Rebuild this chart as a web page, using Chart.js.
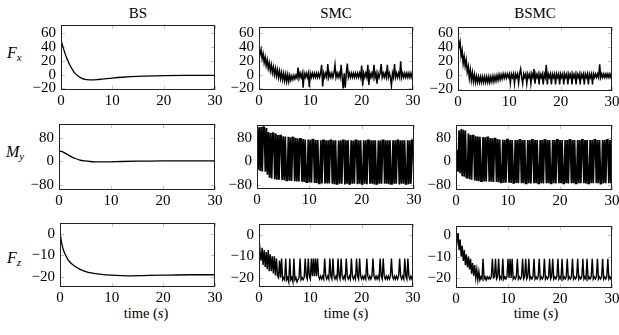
<!DOCTYPE html>
<html><head><meta charset="utf-8">
<script src="https://cdn.jsdelivr.net/npm/chart.js@4"></script>
<style>
html,body{margin:0;padding:0;background:#fff;}
body{width:619px;height:335px;position:relative;overflow:hidden;font-family:'Liberation Serif','Times New Roman',serif;color:#000;}
canvas{position:absolute;}
.ct{position:absolute;font-size:15px;transform:translate(-50%,-50%);white-space:nowrap;line-height:1;}
.xl{position:absolute;font-size:14.5px;transform:translate(-50%,-50%);white-space:nowrap;line-height:1;}
.yl{position:absolute;font-size:16px;font-style:italic;line-height:16px;white-space:nowrap;}
.yl sub{font-size:11px;line-height:0;vertical-align:-3px;}
</style></head><body>
<div class="ct" style="left:138px;top:13px">BS</div>
<div class="ct" style="left:336px;top:13px">SMC</div>
<div class="ct" style="left:535px;top:13px">BSMC</div>
<div class="yl" style="left:7px;top:45px">F<sub>x</sub></div>
<div class="yl" style="left:6px;top:144px">M<sub>y</sub></div>
<div class="yl" style="left:7px;top:250px">F<sub>z</sub></div>
<div class="xl" style="left:146px;top:313px">time (<i>s</i>)</div>
<div class="xl" style="left:346px;top:313px">time (<i>s</i>)</div>
<div class="xl" style="left:536px;top:313px">time (<i>s</i>)</div>
<script>
// ---------- tick labels ----------
const X_TICKS = [0, 10, 20, 30];
const FX_TICKS = [-20, 0, 20, 40, 60];
const MY_TICKS = [-80, 0, 80];
const FZ_TICKS = [-20, -10, 0];

// ---------- BS (smooth) series ----------
const bsFxTime = [0,0.5,1,1.5,2,2.5,3,3.5,4,4.5,5,6,7,8,10,12,15,20,25,30];
const bsFx     = [50,37,26,17,10,4,0,-3,-5,-6.5,-7.2,-7.5,-7.2,-6.5,-5,-3.8,-2.6,-1.6,-1.2,-1];
const bsMyTime = [0,0.5,1,1.5,2,2.5,3,4,5,6,7,8,10,12,15,20,25,30];
const bsMy     = [36,34,30,25,20,15,11,5,2,0,-1,-1.5,-1,0,1,2,2,2];
const bsFzTime = [0,0.3,0.6,1,1.5,2,3,4,5,6,8,10,12,14,16,20,25,30];
const bsFz     = [1,-4,-7,-9.5,-11.8,-13.3,-15.3,-16.6,-17.5,-18.1,-18.8,-19.2,-19.4,-19.5,-19.4,-19.2,-19,-19];

// ---------- SMC / BSMC sampled series (every 0.2 s, 0..30 s) ----------
const sampleStep = 0.2;
const smcFx = [40,29,36,23,30,17,25,13,21,9,
 17,5.5,14,2.5,11,0,9,-2,7,-4,
 5,-6,3,-7.5,1.5,-9,0.5,-10,0,-10,
 -1,-8,-2,-7,-1,-6,-1,-5,10,-5,
 2,-4,2,-19,2,-4,2,-4,2,-18,
 2,-4,2,-4,2,-4,2,-4,2,-4,
 2,14,-17,2,-4,2,-4,15,-4,2,
 -4,2,-4,2,14,-4,2,-4,2,-4,
 14,-4,-20,2,-19,2,16,-4,2,-4,
 2,-4,2,-4,2,-4,2,-4,2,-4,
 13,-16,2,-4,2,-4,14,-15,2,-4,
 2,-4,14,-4,2,-13,2,-4,2,15,
 -4,2,-4,2,-4,14,-4,2,-4,-16,
 2,-4,15,-4,2,-4,2,-4,19,-4,
 2,-4,2,-4,2,-4,2,-4,2,-4,
 2];
const bsmcFx = [55,40,47,27,35,16,26,12,21,4,
 12,-5,7,-8,3,-10,0,-11,-2,-11,
 -3,-11,-3,-11,-3,-11,-3,-11,-3,-11,
 -3,-11,-3,-10,-2,-10,-2,-9,-1,-8,
 0,-7,0,-6,1,-5,1,-5,1,-4,
 1,-12,1,-4,1,-13,1,-4,1,-12,
 1,8,-4,-13,1,-4,1,-13,1,-4,
 1,-13,1,-4,8,-13,1,-4,1,-14,
 1,-4,1,-14,1,-4,14,-14,1,-4,
 1,-14,1,-4,1,-14,1,-4,1,-14,
 1,-4,1,-14,1,-4,1,-14,1,-4,
 1,-14,1,-4,1,-14,1,-4,1,-14,
 1,-4,1,-14,1,-4,1,-14,1,-4,
 1,-14,1,-4,1,-4,1,-4,15,-4,
 1,-4,1,-4,1,-4,1,-4,1,-4,
 1];
const smcMy = [110,-28,116,-32,117,-34,117,116,-35,114,
 -45,100,-55,97,-58,96,95,-60,95,-62,
 90,-62,88,88,-63,86,-64,85,-64,-64,
 84,-65,82,-66,82,81,-67,80,-68,78,
 -68,77,77,-69,76,-70,75,-70,-70,75,
 -71,74,-72,74,74,-73,73,-73,73,-74,
 -74,72,-75,72,72,-75,72,-75,72,-75,
 72,72,-76,72,-77,72,-76,-76,71,-76,
 72,-76,72,72,-78,72,-76,72,-76,-76,
 72,-76,71,-76,72,72,-77,72,-76,72,
 -76,-76,72,-76,72,-77,72,72,-76,72,
 -76,72,-78,72,-76,-76,71,-76,72,-76,
 72,72,-76,72,-76,72,-77,72,-76,-76,
 72,-76,72,-76,72,72,-78,72,-76,72,
 -76,72,-76,-76,72,-77,72,-76,72,72,
 -76];
const bsmcMy = [-30,40,-35,105,-40,110,-50,108,-52,105,
 -55,-55,95,-60,90,-62,88,88,-65,86,
 -66,85,-67,84,-67,-67,83,-68,82,-68,
 82,82,-69,80,-69,79,-70,78,78,-70,
 76,-71,75,-71,-71,74,-72,74,-72,74,
 74,-72,73,-73,73,-73,-73,73,-73,73,
 -74,73,73,-74,73,-74,73,-74,-74,73,
 -74,73,-75,73,73,-74,73,-74,73,-74,
 -74,73,-74,73,-75,73,73,-74,73,-74,
 73,-74,-74,73,-74,73,-75,73,73,-74,
 73,-74,73,-74,-74,73,-74,73,-75,73,
 73,-74,73,-74,73,-74,-74,73,-74,73,
 -74,73,73,-74,73,-75,73,-74,-74,73,
 -74,73,-74,73,73,-74,73,-74,73,-75,
 -74,73,-74,73,-74,73,73,-74,73,-74,
 73];
const smcFz = [-1,-8,-12,-6,-14,-7,-15,-8,-16,-7,
 -17,-9,-17,-10,-18,-10,-19,-11,-19,-20,
 -12,-20,-11,-21,-20,-21,-11,-21,-20,-22,
 -11,-21,-20,-22,-11,-21,-20,-22,-21,-20,
 -11,-21,-20,-21,-20,-11,-19.3,-20.7,-11,-19.3,
 -20.7,-11,-19.3,-11,-19.3,-11,-19.3,-11,-19.3,-20.7,
 -19.3,-20.7,-19.3,-20.7,-11,-19.3,-20.7,-19.3,-20.7,-11,
 -19.3,-20.7,-11,-19.3,-20.7,-19.3,-20.7,-11,-19.3,-20.7,
 -11,-19.3,-20.7,-19.3,-20.7,-11,-19.3,-20.7,-19.3,-20.7,
 -11,-19.3,-20.7,-19.3,-20.7,-11,-19.3,-20.7,-11,-19.3,
 -20.7,-19.3,-20.7,-19.3,-20.7,-11,-19.3,-20.7,-19.3,-20.7,
 -19.3,-11,-19.3,-20.7,-19.3,-20.7,-19.3,-20.7,-11,-19.3,
 -20.7,-11,-19.3,-20.7,-19.3,-20.7,-19.3,-20.7,-19.3,-11,
 -19.3,-20.7,-19.3,-20.7,-19.3,-20.7,-19.3,-11,-19.3,-20.7,
 -19.3,-20.7,-11,-19.3,-20.7,-11,-19.3,-20.7,-19.3,-20.7,
 -19.3];
const bsmcFz = [3,-3,1,-7,-2,-10,-5,-12,-7,-14,
 -9,-15,-10,-16,-11,-18,-13,-19,-14,-20,
 -16,-21,-17,-21,-19.5,-20.5,-11,-20.5,-19.5,-21,
 -19.5,-20.5,-19.5,-20.5,-19.5,-11,-20,-19.5,-11,-20.5,
 -19.5,-11,-20.5,-19.5,-20.5,-11,-20.5,-19.5,-20.5,-19.5,
 -11,-20,-11,-20,-11,-20.5,-19.5,-20.5,-19.5,-11,
 -20.5,-19.5,-20.5,-19.5,-11,-20.5,-19.5,-11,-20.5,-19.5,
 -11,-20.5,-19.5,-20.5,-19.5,-11,-20.5,-19.5,-20.5,-19.5,
 -11,-20.5,-19.5,-20.5,-19.5,-11,-20.5,-19.5,-20.5,-19.5,
 -11,-20.5,-19.5,-11,-20.5,-19.5,-20.5,-19.5,-11,-20.5,
 -19.5,-20.5,-11,-20.5,-19.5,-20.5,-19.5,-11,-20.5,-19.5,
 -20.5,-19.5,-11,-20.5,-19.5,-20.5,-19.5,-11,-20.5,-19.5,
 -20.5,-19.5,-11,-20.5,-19.5,-20.5,-11,-20.5,-19.5,-20.5,
 -19.5,-11,-20.5,-19.5,-20.5,-19.5,-11,-20.5,-19.5,-20.5,
 -19.5,-11,-20.5,-19.5,-20.5,-19.5,-11,-20.5,-19.5,-20.5,
 -19.5];

// ---------- rendering ----------
const TICK_FONT = {family: 'Liberation Serif', size: 15};
Chart.defaults.font.family = 'Liberation Serif';
Chart.defaults.font.size = 15;
Chart.defaults.color = '#000';

const fmt = v => String(v).replace('-', '\u2212');
const sampleTimes = n => Array.from({length: n}, (_, i) => +(i * sampleStep).toFixed(2));

const frame = {
  id: 'frame',
  beforeDatasetsDraw(c) {
    const {ctx, chartArea: a, scales: {x, y}} = c;
    const L = 4;
    ctx.save();
    ctx.strokeStyle = '#b4b4b4';
    ctx.lineWidth = 0.8;
    ctx.beginPath();
    x.ticks.forEach(t => {
      const p = Math.round(x.getPixelForValue(t.value)) + 0.5;
      ctx.moveTo(p, a.top); ctx.lineTo(p, a.top + L);
      ctx.moveTo(p, a.bottom); ctx.lineTo(p, a.bottom - L);
    });
    y.ticks.forEach(t => {
      const p = Math.round(y.getPixelForValue(t.value)) + 0.5;
      ctx.moveTo(a.left, p); ctx.lineTo(a.left + L, p);
      ctx.moveTo(a.right, p); ctx.lineTo(a.right - L, p);
    });
    ctx.stroke();
    ctx.restore();
  },
  afterDatasetsDraw(c) {
    const {ctx, chartArea: a} = c;
    ctx.save();
    ctx.strokeStyle = '#222';
    ctx.lineWidth = 1;
    ctx.strokeRect(a.left + 0.5, a.top + 0.5, a.right - a.left - 1, a.bottom - a.top - 1);
    ctx.restore();
  }
};

function makeChart(box, yRange, yTicks, xs, ys, lw, smooth) {
  const cv = document.createElement('canvas');
  const W = box.r - box.l + 45 + 12, H = box.b - box.t + 16 + 22;
  cv.width = W; cv.height = H;
  cv.style.width = W + 'px'; cv.style.height = H + 'px';
  cv.style.left = (box.l - 45) + 'px'; cv.style.top = (box.t - 16) + 'px';
  document.body.appendChild(cv);
  const pts = xs.map((x, i) => ({x: x, y: ys[i]}));
  new Chart(cv, {
    type: 'line',
    data: {datasets: [{data: pts, borderColor: '#000', borderWidth: lw, pointRadius: 0,
      tension: smooth ? 0.4 : 0, cubicInterpolationMode: smooth ? 'monotone' : 'default', fill: false}]},
    options: {
      responsive: false, animation: false, devicePixelRatio: 1, events: [],
      layout: {padding: {left: 0, right: 12, top: 16, bottom: 0}},
      plugins: {legend: {display: false}, tooltip: {enabled: false}},
      scales: {
        x: {type: 'linear', min: 0, max: 30,
          afterBuildTicks: s => { s.ticks = X_TICKS.map(v => ({value: v})); },
          afterFit: s => { s.height = 22; },
          ticks: {padding: 2, maxRotation: 0, autoSkip: false, font: TICK_FONT, color: '#000', callback: v => fmt(v)},
          grid: {display: false, drawTicks: false}, border: {display: false}},
        y: {type: 'linear', min: yRange[0], max: yRange[1],
          afterBuildTicks: s => { s.ticks = yTicks.map(v => ({value: v})); },
          afterFit: s => { s.width = 45; },
          ticks: {padding: 5, autoSkip: false, font: TICK_FONT, color: '#000', callback: v => fmt(v)},
          grid: {display: false, drawTicks: false}, border: {display: false}}
      }
    },
    plugins: [frame]
  });
}

const N = smcFx.length;
const tS = sampleTimes(N);
// row 1 : Fx
makeChart({l:61, r:215, t:25, b:90}, [-22.2, 71.5], FX_TICKS, bsFxTime, bsFx, 1.3, true);
makeChart({l:259, r:413, t:27, b:90}, [-22.2, 68.5], FX_TICKS, tS, smcFx, 1.5, false);
makeChart({l:458, r:612, t:27, b:91}, [-23.5, 68.5], FX_TICKS, tS, bsmcFx, 1.5, false);
// row 2 : My
makeChart({l:59, r:215, t:124, b:190}, [-97, 127.5], MY_TICKS, bsMyTime, bsMy, 1.3, true);
makeChart({l:257, r:414, t:125, b:189}, [-93.5, 124], MY_TICKS, tS, smcMy, 1.8, false);
makeChart({l:456, r:612, t:125, b:190}, [-97, 124], MY_TICKS, tS, bsmcMy, 1.8, false);
// row 3 : Fz
makeChart({l:60, r:215, t:223, b:287}, [-24.7, 5.1], FZ_TICKS, bsFzTime, bsFz, 1.3, true);
makeChart({l:259, r:413, t:224, b:287}, [-24.4, 5.2], FZ_TICKS, tS, smcFz, 1.4, false);
makeChart({l:456, r:612, t:226, b:288}, [-24.7, 4.3], FZ_TICKS, tS, bsmcFz, 1.4, false);
</script>
</body></html>
